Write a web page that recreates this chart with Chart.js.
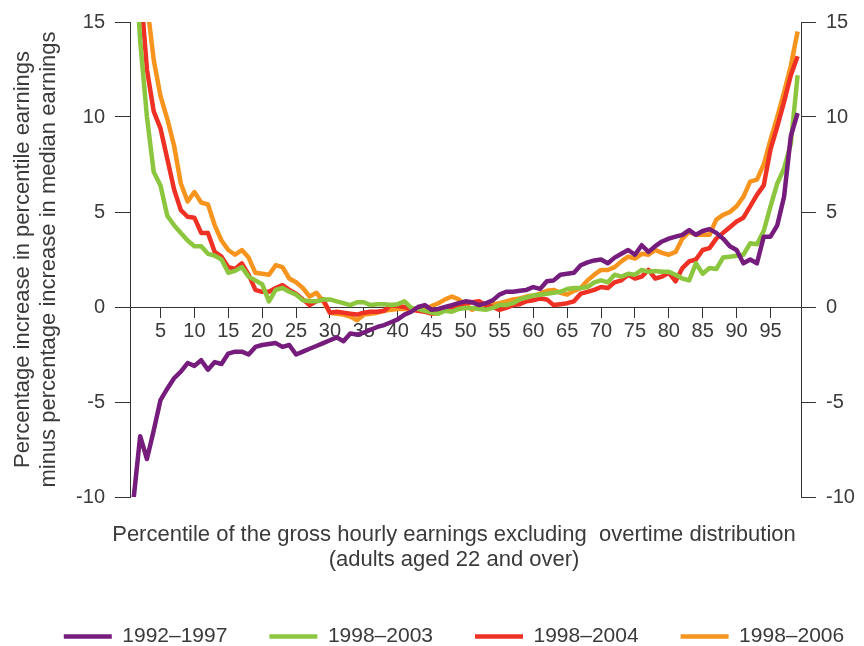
<!DOCTYPE html>
<html>
<head>
<meta charset="utf-8">
<script src="https://cdn.jsdelivr.net/npm/chart.js@4/dist/chart.umd.min.js"></script>
<style>
  html, body { margin: 0; padding: 0; background: #fff; }
</style>
</head>
<body>
<canvas id="earningsChart" width="864" height="646"></canvas>
<script>
'use strict';

// percentile of the gross hourly earnings distribution
const percentiles = [
    1, 2, 3, 4, 5, 6, 7, 8, 9, 10, 11, 12, 13, 14, 15, 16, 17, 18, 19, 20,
    21, 22, 23, 24, 25, 26, 27, 28, 29, 30, 31, 32, 33, 34, 35, 36, 37, 38, 39, 40,
    41, 42, 43, 44, 45, 46, 47, 48, 49, 50, 51, 52, 53, 54, 55, 56, 57, 58, 59, 60,
    61, 62, 63, 64, 65, 66, 67, 68, 69, 70, 71, 72, 73, 74, 75, 76, 77, 78, 79, 80,
    81, 82, 83, 84, 85, 86, 87, 88, 89, 90, 91, 92, 93, 94, 95, 96, 97, 98, 99
];

const seriesLabels = ["1992–1997", "1998–2003", "1998–2004", "1998–2006"];
const seriesColors = ["#751c7d", "#8cc63f", "#ee3124", "#f7941d"];

const values1992to1997 = [
    -10.2, -6.8, -8.0, -6.5, -4.9, -4.3, -3.75, -3.4, -2.95, -3.1,
    -2.8, -3.3, -2.9, -3.0, -2.45, -2.35, -2.35, -2.5, -2.1, -2.0,
    -1.95, -1.9, -2.1, -2.0, -2.5, -2.35, -2.2, -2.05, -1.9, -1.75,
    -1.6, -1.8, -1.4, -1.45, -1.35, -1.2, -1.05, -0.95, -0.8, -0.65,
    -0.4, -0.25, 0.0, 0.1, -0.15, -0.1, 0.0, 0.1, 0.2, 0.3,
    0.25, 0.1, 0.2, 0.35, 0.65, 0.8, 0.8, 0.85, 0.9, 1.05,
    0.95, 1.35, 1.4, 1.7, 1.75, 1.8, 2.2, 2.35, 2.45, 2.5,
    2.3, 2.6, 2.8, 3.0, 2.75, 3.25, 2.9, 3.2, 3.45, 3.6,
    3.7, 3.8, 4.05, 3.8, 4.0, 4.1, 3.9, 3.6, 3.2, 3.0,
    2.3, 2.5, 2.3, 3.7, 3.7, 4.3, 5.8, 9.0, 10.2
];

const values1998to2003 = [
    20, 14.0, 10.0, 7.1, 6.4, 4.8, 4.3, 3.9, 3.5, 3.2,
    3.2, 2.8, 2.7, 2.5, 1.8, 1.9, 2.1, 1.6, 1.4, 1.2,
    0.3, 0.9, 1.0, 0.8, 0.65, 0.35, 0.3, 0.3, 0.4, 0.4,
    0.3, 0.2, 0.1, 0.25, 0.25, 0.1, 0.15, 0.15, 0.1, 0.15,
    0.3, -0.05, -0.1, -0.2, -0.3, -0.35, -0.2, -0.25, -0.1, -0.05,
    -0.05, -0.1, -0.15, -0.05, 0.1, 0.1, 0.2, 0.4, 0.5, 0.6,
    0.65, 0.7, 0.75, 0.8, 0.95, 1.0, 1.0, 1.05, 1.3, 1.4,
    1.3, 1.7, 1.6, 1.75, 1.7, 1.95, 1.85, 1.9, 1.85, 1.85,
    1.7, 1.5, 1.4, 2.3, 1.75, 2.05, 2.0, 2.6, 2.65, 2.7,
    2.75, 3.35, 3.3, 4.0, 5.3, 6.5, 7.3, 8.6, 12.2
];

const values1998to2004 = [
    22, 17, 12.5, 10.3, 9.4, 7.8, 6.2, 5.1, 4.75, 4.7,
    3.9, 3.9, 2.9, 2.65, 2.1, 2.0, 2.3, 1.7, 0.9, 0.8,
    0.8, 1.0, 1.15, 0.9, 0.7, 0.4, 0.1, 0.3, 0.4, -0.3,
    -0.25, -0.3, -0.35, -0.4, -0.3, -0.25, -0.25, -0.2, 0.1, 0.05,
    0.0, -0.1, -0.2, -0.25, -0.35, -0.3, -0.1, 0.0, 0.1, 0.2,
    0.25, 0.3, 0.1, 0.0, -0.15, -0.05, 0.1, 0.15, 0.3, 0.35,
    0.45, 0.4, 0.1, 0.15, 0.2, 0.3, 0.7, 0.8, 0.9, 1.05,
    1.0, 1.3, 1.4, 1.7, 1.5, 1.6, 1.95, 1.5, 1.6, 1.8,
    1.35, 2.05, 2.4, 2.5, 3.0, 3.1, 3.6, 3.9, 4.2, 4.5,
    4.7, 5.3, 5.9, 6.4, 8.3, 9.5, 10.8, 12.2, 13.2
];

const values1998to2006 = [
    26, 20, 16, 13.0, 11.1, 9.9, 8.5, 6.5, 5.55, 6.05,
    5.5, 5.4, 4.3, 3.5, 3.0, 2.75, 3.0, 2.6, 1.8, 1.75,
    1.7, 2.2, 2.1, 1.5, 1.3, 1.0, 0.55, 0.75, 0.3, -0.3,
    -0.35, -0.4, -0.5, -0.7, -0.4, -0.35, -0.3, -0.2, -0.15, -0.1,
    -0.1, -0.15, -0.2, -0.1, 0.05, 0.2, 0.4, 0.55, 0.4, 0.1,
    -0.15, 0.05, 0.1, 0.15, 0.2, 0.3, 0.4, 0.45, 0.55, 0.6,
    0.7, 0.85, 0.9, 0.75, 0.65, 0.85, 1.0, 1.4, 1.7, 1.95,
    1.95, 2.1, 2.4, 2.65, 2.55, 2.8, 2.75, 3.0, 2.85, 2.75,
    2.9, 3.6, 3.95, 3.8, 3.8, 3.8, 4.6, 4.85, 5.0, 5.3,
    5.8, 6.6, 6.7, 7.5, 8.8, 10.0, 11.3, 12.7, 14.5
];

const xTickValues = [5, 10, 15, 20, 25, 30, 35, 40, 45, 50, 55, 60, 65, 70, 75, 80, 85, 90, 95];
const yTickValues = [-10, -5, 0, 5, 10, 15];

const allSeries = [values1992to1997, values1998to2003, values1998to2004, values1998to2006];

const fontFamily = "'Liberation Sans', Arial, sans-serif";
const textColor = "#3a3a3a";
const axisColor = "#333333";

const datasets = allSeries.map((values, i) => ({
    label: seriesLabels[i],
    data: values.map((v, j) => ({ x: percentiles[j], y: v })),
    borderColor: seriesColors[i],
    backgroundColor: seriesColors[i],
    borderWidth: 4.5,
    pointRadius: 0,
    tension: 0,
    borderJoinStyle: "round",
}));

const yAxisCommon = {
    type: "linear",
    min: -10,
    max: 15,
    afterBuildTicks: axis => {
        axis.ticks = yTickValues.map(v => ({ value: v }));
    },
    grid: {
        drawOnChartArea: false,
        drawTicks: true,
        tickLength: 15,
        color: axisColor,
        lineWidth: 1,
    },
    border: { display: true, color: axisColor, width: 1 },
    ticks: {
        color: textColor,
        font: { family: fontFamily, size: 20 },
        padding: 10,
    },
};

const ctx = document.getElementById("earningsChart").getContext("2d");

new Chart(ctx, {
    type: "line",
    data: { datasets },
    options: {
        responsive: false,
        animation: false,
        layout: {
            // negative right padding moves the centred title and legend a little to the right
            padding: { top: 22, right: -44, bottom: 0, left: 0 },
        },
        scales: {
            x: {
                type: "linear",
                min: 0.5,
                max: 99.5,
                position: { y: 0 },
                afterBuildTicks: axis => {
                    axis.ticks = xTickValues.map(v => ({ value: v }));
                },
                grid: {
                    drawOnChartArea: false,
                    drawTicks: true,
                    tickLength: 10,
                    color: axisColor,
                    lineWidth: 1,
                },
                border: { display: true, color: axisColor, width: 1 },
                ticks: {
                    color: textColor,
                    font: { family: fontFamily, size: 20 },
                    padding: 2,
                    maxRotation: 0,
                    autoSkip: false,
                },
            },
            y: {
                ...yAxisCommon,
                position: "left",
                afterFit: scale => { scale.width = 130; },
                title: {
                    display: true,
                    text: [
                        "Percentage increase in percentile earnings",
                        "minus percentage increase in median earnings",
                    ],
                    color: textColor,
                    font: { family: fontFamily, size: 22, lineHeight: 26 / 22 },
                    padding: { top: 10, bottom: 0 },
                },
            },
            y2: {
                ...yAxisCommon,
                position: "right",
                display: true,
                afterFit: scale => { scale.width = 107; },
                ticks: { ...yAxisCommon.ticks, padding: 10 },
            },
        },
        plugins: {
            legend: {
                position: "bottom",
                weight: 1000,
                maxHeight: 62,
                labels: {
                    usePointStyle: true,
                    pointStyle: "line",
                    pointStyleWidth: 48,
                    color: textColor,
                    font: { family: fontFamily, size: 21 },
                    padding: 42,
                },
            },
            title: {
                display: true,
                position: "bottom",
                weight: 500,
                text: [
                    "Percentile of the gross hourly earnings excluding  overtime distribution",
                    "(adults aged 22 and over)",
                ],
                color: textColor,
                font: { family: fontFamily, size: 22, weight: "normal", lineHeight: 25 / 22 },
                padding: { top: 25.5, bottom: 11.5 },
            },
            tooltip: { enabled: false },
        },
    },
});
</script>
</body>
</html>
